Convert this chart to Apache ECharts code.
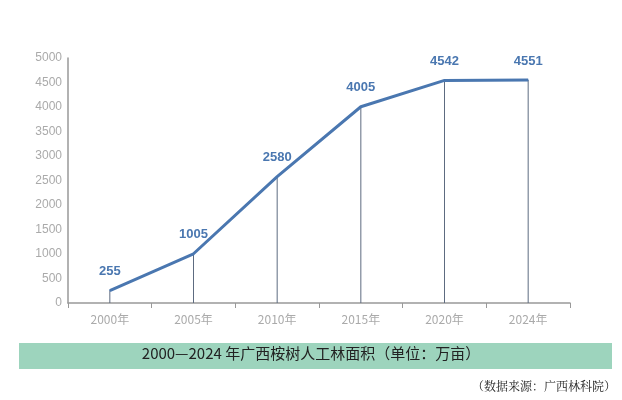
<!DOCTYPE html>
<html>
<head>
<meta charset="utf-8">
<script src="https://cdn.jsdelivr.net/npm/echarts@6/dist/echarts.min.js"></script>
<style>html,body{margin:0;padding:0;background:#fff}#chart{width:622px;height:400px}</style>
</head>
<body>
<div id="chart"></div>
<script>
var years = ['2000年', '2005年', '2010年', '2015年', '2020年', '2024年'];
var area = [255, 1005, 2580, 4005, 4542, 4551];
var yTicks = [0, 500, 1000, 1500, 2000, 2500, 3000, 3500, 4000, 4500, 5000];

var chart = echarts.init(document.getElementById('chart'));
var option = {
    animation: false,
    grid: {left: 68, right: 52, top: 58, bottom: 97},
    xAxis: {
        type: 'category',
        data: years,
        boundaryGap: true,
        axisLine: {lineStyle: {color: '#999', width: 1.5}},
        axisTick: {show: true, lineStyle: {color: '#999'}},
        axisLabel: {color: '#aaa', fontSize: 12, margin: 10, fontFamily: 'Noto Sans CJK SC'}
    },
    yAxis: {
        type: 'value',
        min: yTicks[0],
        max: yTicks[yTicks.length - 1],
        interval: 500,
        axisLine: {show: true, lineStyle: {color: '#999', width: 1.5}},
        axisTick: {show: false},
        splitLine: {show: false},
        axisLabel: {color: '#aaa', fontSize: 12, margin: 6, formatter: function (v) { return String(v); }}
    },
    series: [
        {
            // 竖线
            type: 'bar',
            data: area,
            barWidth: 1,
            itemStyle: {color: '#5d6b80'},
            silent: true
        },
        {
            type: 'line',
            data: area,
            symbol: 'circle',
            symbolSize: 1,
            z: 5,
            itemStyle: {color: '#4a77b0'},
            lineStyle: {color: '#4a77b0', width: 3},
            label: {
                show: true,
                position: 'top',
                distance: 12,
                color: '#4a77b0',
                fontWeight: 'bold',
                fontSize: 13
            }
        }
    ],
    graphic: [
        {type: 'rect', shape: {x: 19, y: 343, width: 593, height: 26}, style: {fill: '#9dd4bd'}},
        {type: 'text', left: 'center', top: 346, style: {text: '2000—2024 年广西桉树人工林面积（单位：万亩）', fill: '#222', font: '15px "Noto Sans CJK SC"'}},
        {type: 'text', right: 6, top: 380, style: {text: '（数据来源：广西林科院）', fill: '#222', font: '12px "Noto Serif CJK SC","Noto Sans CJK SC"'}}
    ]
};
chart.setOption(option);
</script>
</body>
</html>
